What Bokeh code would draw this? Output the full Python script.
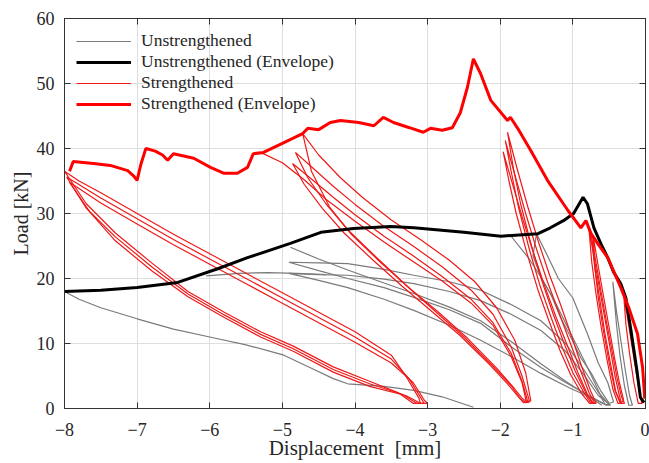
from bokeh.plotting import figure
from bokeh.models import Legend, LegendItem, LinearAxis, Range1d, FixedTicker
from bokeh.embed import file_html
from bokeh.resources import INLINE

X_TICKS = [-8, -7, -6, -5, -4, -3, -2, -1, 0]
Y_TICKS = [0, 10, 20, 30, 40, 50, 60]

# ---------------- Envelopes ----------------
ENV_S_X = [-7.93, -7.88, -7.6, -7.37, -7.13, -7.05, -7.0, -6.95, -6.88, -6.75, -6.65, -6.58, -6.5,
           -6.22, -5.99, -5.81, -5.62, -5.48, -5.4, -5.26, -5.0, -4.85, -4.72, -4.65, -4.5, -4.34,
           -4.2, -3.95, -3.74, -3.61, -3.47, -3.25, -3.06, -2.96, -2.8, -2.66, -2.55, -2.45, -2.37,
           -2.27, -2.13, -1.9, -1.86, -1.76, -1.58, -1.35, -1.07, -0.89, -0.82, -0.75, -0.66, -0.52,
           -0.34, -0.23, -0.11, -0.04, -0.01]
ENV_S_Y = [36.5, 38.0, 37.7, 37.4, 36.6, 35.8, 35.1, 37.5, 40.0, 39.6, 39.0, 38.2, 39.2,
           38.5, 37.1, 36.2, 36.2, 37.1, 39.2, 39.4, 40.8, 41.6, 42.3, 43.1, 42.9, 44.0,
           44.3, 44.0, 43.5, 44.8, 44.0, 43.2, 42.5, 43.1, 42.8, 43.2, 45.5, 49.5, 53.8,
           51.5, 47.4, 44.3, 44.8, 43.1, 39.7, 35.1, 30.5, 27.8, 28.9, 26.9, 25.4, 23.2,
           18.6, 15.5, 11.5, 6.3, 1.5]

ENV_U_X = [-8.0, -7.5, -7.0, -6.44, -5.89, -5.48, -4.89, -4.47, -4.02, -3.51, -3.19, -2.5, -1.99,
           -1.48, -1.31, -1.13, -0.99, -0.86, -0.8, -0.71, -0.6, -0.52, -0.44, -0.34, -0.27, -0.2,
           -0.12, -0.07, -0.02]
ENV_U_Y = [18.0, 18.2, 18.6, 19.4, 21.5, 23.2, 25.4, 27.1, 27.7, 28.0, 27.8, 27.1, 26.5,
           26.9, 27.8, 28.9, 30.0, 32.5, 31.5, 27.8, 25.0, 23.2, 21.0, 19.2, 17.0, 12.0,
           6.0, 1.7, 0.9]

# ---------------- Strengthened cycles ----------------
S_A1_X = [-8.0, -7.8, -7.5, -7.0, -6.5, -6.0, -5.5, -5.0, -4.5, -4.0, -3.5, -3.3, -3.12, -3.1, -3.2,
          -3.4, -3.8, -4.3, -4.85, -5.3, -5.8, -6.3, -6.8, -7.3, -7.7, -8.0]
S_A1_Y = [36.5, 35.0, 33.2, 30.0, 26.8, 23.8, 20.8, 17.8, 14.8, 11.8, 8.2, 5.0, 1.6, 0.8, 0.8,
          2.4, 4.2, 6.4, 9.6, 11.8, 14.8, 18.0, 22.4, 27.0, 31.5, 36.5]
S_A2_X = [-7.97, -7.5, -7.0, -6.5, -6.0, -5.5, -5.0, -4.5, -4.0, -3.5, -3.25, -3.08, -3.05, -3.15,
          -3.35, -3.8, -4.3, -4.85, -5.3, -5.8, -6.3, -6.8, -7.3, -7.7, -7.97]
S_A2_Y = [35.6, 32.4, 29.2, 26.0, 23.0, 20.0, 17.0, 14.0, 11.0, 7.6, 4.5, 1.4, 0.8, 0.8,
          2.2, 3.8, 6.0, 9.2, 11.4, 14.4, 17.6, 21.8, 26.4, 30.8, 35.6]
S_A3_X = [-7.93, -7.5, -7.0, -6.5, -6.0, -5.5, -5.0, -4.5, -4.0, -3.5, -3.2, -3.04, -3.0, -3.1,
          -3.3, -3.8, -4.3, -4.85, -5.3, -5.8, -6.3, -6.8, -7.3, -7.65, -7.93]
S_A3_Y = [34.8, 31.6, 28.4, 25.2, 22.2, 19.2, 16.2, 13.2, 10.2, 7.0, 4.0, 1.2, 0.8, 0.8,
          2.0, 3.4, 5.6, 8.8, 11.0, 14.0, 17.2, 21.2, 25.8, 30.2, 34.8]

S_B0_X = [-5.3, -5.0, -4.7, -4.4, -4.0, -3.6, -3.2, -2.8, -2.4, -2.1, -1.85, -1.7, -1.64]
S_B0_Y = [39.4, 37.8, 35.2, 32.2, 28.8, 25.6, 22.6, 19.6, 16.2, 12.8, 8.0, 4.0, 1.0]
S_B1_X = [-4.82, -4.6, -4.3, -4.0, -3.6, -3.2, -2.8, -2.4, -2.1, -1.85, -1.7, -1.6, -1.65, -1.72,
          -1.85, -2.1, -2.5, -2.9, -3.3, -3.7, -4.1, -4.4, -4.65, -4.82]
S_B1_Y = [39.4, 37.2, 34.2, 31.4, 28.0, 25.0, 21.8, 18.2, 14.5, 9.5, 5.0, 1.2, 0.9, 1.5,
          3.5, 6.5, 11.0, 15.0, 19.0, 23.2, 27.5, 31.5, 35.5, 39.4]
S_B2_X = [-4.86, -4.6, -4.3, -4.0, -3.6, -3.2, -2.8, -2.4, -2.1, -1.85, -1.7, -1.62, -1.68, -1.75,
          -1.9, -2.15, -2.55, -2.95, -3.35, -3.75, -4.15, -4.45, -4.7, -4.86]
S_B2_Y = [37.7, 35.3, 32.5, 29.8, 26.5, 23.5, 20.3, 16.8, 13.2, 8.5, 4.2, 1.0, 0.9, 1.8,
          3.8, 6.8, 11.2, 15.0, 18.8, 22.8, 27.0, 30.8, 34.5, 37.7]
S_B3_X = [-4.72, -4.5, -4.2, -3.9, -3.5, -3.1, -2.7, -2.35, -2.05, -1.8, -1.65, -1.58, -1.62, -1.7,
          -1.8, -2.05, -2.45, -2.85, -3.25, -3.65, -4.05, -4.35, -4.6, -4.72]
S_B3_Y = [42.3, 39.0, 35.5, 32.5, 29.0, 26.0, 22.8, 19.5, 15.5, 10.5, 5.5, 1.2, 0.9, 1.6,
          3.0, 6.2, 10.8, 14.8, 18.5, 22.5, 26.8, 31.0, 36.5, 42.3]

S_C1_X = [-1.93, -1.8, -1.65, -1.5, -1.35, -1.2, -1.05, -0.9, -0.78, -0.7, -0.75, -0.85, -1.0,
          -1.15, -1.3, -1.45, -1.6, -1.75, -1.85, -1.93]
S_C1_Y = [41.2, 36.0, 30.0, 24.5, 19.5, 15.0, 10.5, 6.0, 2.5, 0.8, 0.8, 2.5, 5.5,
          9.5, 14.0, 18.8, 24.5, 31.0, 36.5, 41.2]
S_C2_X = [-1.9, -1.77, -1.62, -1.47, -1.32, -1.17, -1.02, -0.88, -0.76, -0.68, -0.73, -0.83, -0.97,
          -1.12, -1.27, -1.42, -1.57, -1.72, -1.82, -1.9]
S_C2_Y = [42.5, 37.0, 31.0, 25.5, 20.5, 16.0, 11.2, 6.5, 2.8, 0.8, 0.8, 2.6, 5.8,
          10.0, 14.5, 19.4, 25.0, 31.5, 37.0, 42.5]
S_C3_X = [-1.96, -1.83, -1.68, -1.53, -1.38, -1.23, -1.08, -0.93, -0.8, -0.72, -0.77, -0.88, -1.03,
          -1.18, -1.33, -1.48, -1.63, -1.78, -1.88, -1.96]
S_C3_Y = [39.5, 34.5, 28.8, 23.5, 18.6, 14.0, 9.8, 5.5, 2.2, 0.8, 0.8, 2.3, 5.2,
          9.0, 13.5, 18.2, 23.8, 30.0, 35.0, 39.5]

S_D1_X = [-0.78, -0.72, -0.65, -0.57, -0.49, -0.42, -0.36, -0.33, -0.38, -0.45, -0.53, -0.61,
          -0.68, -0.74, -0.78]
S_D1_Y = [27.8, 24.0, 19.5, 14.5, 9.5, 5.0, 2.0, 0.8, 0.8, 3.0, 7.5, 12.5, 17.5, 22.5, 27.8]
S_D2_X = [-0.72, -0.66, -0.59, -0.51, -0.43, -0.36, -0.3, -0.35, -0.42, -0.5, -0.58, -0.65,
          -0.7, -0.72]
S_D2_Y = [26.5, 22.5, 18.0, 13.0, 8.0, 4.0, 1.2, 0.9, 2.8, 7.0, 12.0, 17.0, 22.0, 26.5]
S_D3_X = [-0.75, -0.69, -0.62, -0.54, -0.46, -0.39, -0.33, -0.29, -0.34, -0.41, -0.48, -0.56,
          -0.63, -0.7, -0.75]
S_D3_Y = [27.0, 23.0, 18.5, 13.5, 8.8, 4.6, 1.8, 0.8, 0.8, 2.6, 6.8, 11.6, 16.8, 21.8, 27.0]
S_E1_X = [-0.3, -0.22, -0.15, -0.09, -0.05, -0.1, -0.16, -0.22, -0.27, -0.3]
S_E1_Y = [17.5, 12.0, 7.0, 3.0, 0.8, 0.8, 4.0, 8.5, 13.0, 17.5]

# ---------------- Unstrengthened cycles ----------------
U_1_X = [-8.0, -7.8, -7.5, -7.0, -6.5, -6.0, -5.5, -4.98, -4.6, -4.3, -4.1, -3.6, -3.19, -2.8, -2.37]
U_1_Y = [18.0, 16.8, 15.5, 13.8, 12.2, 11.0, 9.8, 8.2, 6.2, 4.6, 3.8, 3.4, 2.8, 1.8, 0.2]
U_2A_X = [-4.91, -4.5, -4.1, -3.6, -3.19, -2.7, -2.27, -1.85, -1.44, -1.1, -0.85, -0.65, -0.5,
          -0.55, -0.75, -1.1, -1.44, -1.85, -2.27, -2.7, -3.19, -3.6, -4.1, -4.5, -4.91]
U_2A_Y = [22.5, 22.4, 22.3, 21.4, 20.5, 19.5, 18.2, 16.0, 13.5, 10.0, 6.0, 2.5, 0.6,
          0.6, 1.8, 4.0, 6.3, 9.5, 13.1, 15.2, 17.1, 18.6, 20.0, 21.2, 22.5]
U_2B_X = [-4.91, -4.5, -4.1, -3.6, -3.19, -2.7, -2.27, -1.85, -1.44, -1.1, -0.85, -0.65, -0.48,
          -0.53, -0.72, -1.05, -1.44, -1.85, -2.27, -2.7, -3.19, -3.6, -4.1, -4.5, -4.91]
U_2B_Y = [20.8, 20.6, 20.5, 19.9, 19.2, 18.0, 16.6, 14.5, 12.0, 8.8, 5.2, 2.0, 0.5,
          0.5, 1.5, 3.2, 5.4, 8.0, 10.5, 12.8, 15.1, 16.8, 18.6, 19.7, 20.8]
U_2C_X = [-4.89, -4.5, -4.1, -3.6, -3.19, -2.7, -2.27, -1.85, -1.44, -1.1, -0.8, -0.6]
U_2C_Y = [24.8, 23.0, 21.3, 19.3, 17.7, 15.6, 13.5, 10.3, 6.9, 4.2, 2.0, 0.5]
U_2D_X = [-6.05, -5.6, -5.2, -4.8, -4.4]
U_2D_Y = [20.4, 20.8, 20.9, 20.8, 20.6]
U_3A_X = [-1.5, -1.35, -1.2, -1.0, -0.8, -0.65, -0.52, -0.44, -0.5, -0.62, -0.75, -0.89, -1.03,
          -1.17, -1.3, -1.44, -1.55, -1.5]
U_3A_Y = [26.9, 23.5, 20.0, 17.0, 11.5, 7.0, 4.0, 1.0, 0.8, 2.8, 5.5, 7.8, 11.0,
          14.0, 17.5, 20.2, 23.5, 26.9]
U_3B_X = [-1.85, -1.6, -1.44, -1.25, -1.05, -0.85, -0.7, -0.6, -0.55]
U_3B_Y = [26.5, 23.0, 20.2, 16.5, 12.0, 7.5, 4.0, 1.5, 0.5]
U_4A_X = [-0.45, -0.4, -0.34, -0.28, -0.22, -0.18, -0.23, -0.29, -0.35, -0.4, -0.45]
U_4A_Y = [19.5, 15.0, 10.5, 6.0, 2.0, 0.5, 0.5, 3.5, 8.0, 13.0, 19.5]

S_XS = [S_A1_X, S_A2_X, S_A3_X, S_B0_X, S_B1_X, S_B2_X, S_B3_X, S_C1_X, S_C2_X, S_C3_X,
        S_D1_X, S_D2_X, S_D3_X, S_E1_X]
S_YS = [S_A1_Y, S_A2_Y, S_A3_Y, S_B0_Y, S_B1_Y, S_B2_Y, S_B3_Y, S_C1_Y, S_C2_Y, S_C3_Y,
        S_D1_Y, S_D2_Y, S_D3_Y, S_E1_Y]
U_XS = [U_1_X, U_2A_X, U_2B_X, U_2C_X, U_2D_X, U_3A_X, U_3B_X, U_4A_X]
U_YS = [U_1_Y, U_2A_Y, U_2B_Y, U_2C_Y, U_2D_Y, U_3A_Y, U_3B_Y, U_4A_Y]

LABELS = ["Unstrengthened", "Unstrengthened (Envelope)", "Strengthened", "Strengthened (Envelope)"]
X_LABEL = "Displacement \u00a0[mm]"
Y_LABEL = "Load [kN]"

FONT = "Liberation Serif"
AXIS_COLOR = "#333333"

p = figure(width=649, height=463, output_backend="svg", toolbar_location=None,
           x_range=Range1d(-8, 0), y_range=Range1d(0, 60),
           min_border_left=64, min_border_right=4, min_border_top=18, min_border_bottom=55,
           background_fill_color="white", border_fill_color="white")

p.outline_line_color = AXIS_COLOR
p.outline_line_width = 1

for ax in (p.xaxis[0], p.yaxis[0]):
    ax.major_tick_in = 6
    ax.major_tick_out = 0
    ax.minor_tick_in = 0
    ax.minor_tick_out = 0
    ax.axis_line_color = AXIS_COLOR
    ax.major_tick_line_color = AXIS_COLOR
    ax.major_label_text_font = FONT
    ax.major_label_text_font_size = "18px"
    ax.major_label_text_color = "#262626"
    ax.axis_label_text_font = FONT
    ax.axis_label_text_font_style = "normal"
    ax.axis_label_text_color = "#262626"

p.xaxis[0].ticker = FixedTicker(ticks=X_TICKS)
p.yaxis[0].ticker = FixedTicker(ticks=Y_TICKS)
p.xaxis[0].axis_label = X_LABEL
p.yaxis[0].axis_label = Y_LABEL
p.xaxis[0].axis_label_text_font_size = "21px"
p.yaxis[0].axis_label_text_font_size = "20px"
p.xaxis[0].major_label_standoff = 14
p.yaxis[0].major_label_standoff = 10
p.xaxis[0].axis_label_standoff = -3
p.yaxis[0].axis_label_standoff = 2

top = LinearAxis(ticker=FixedTicker(ticks=X_TICKS), major_label_text_font_size="1px",
                 major_label_text_color=None,
                 major_label_standoff=0, major_tick_in=6, major_tick_out=0,
                 minor_tick_in=0, minor_tick_out=0, axis_line_color=AXIS_COLOR,
                 major_tick_line_color=AXIS_COLOR)
right = LinearAxis(ticker=FixedTicker(ticks=Y_TICKS), major_label_text_font_size="1px",
                   major_label_text_color=None,
                   major_label_standoff=0, major_tick_in=6, major_tick_out=0,
                   minor_tick_in=0, minor_tick_out=0, axis_line_color=AXIS_COLOR,
                   major_tick_line_color=AXIS_COLOR)
p.add_layout(top, "above")
p.add_layout(right, "right")

p.xgrid.ticker = FixedTicker(ticks=X_TICKS)
p.ygrid.ticker = FixedTicker(ticks=Y_TICKS)
p.grid.grid_line_color = "#dedede"
p.grid.grid_line_width = 1

r_u = p.multi_line(U_XS, U_YS, line_color="#7a7a7a", line_width=1.2)
r_s = p.multi_line(S_XS, S_YS, line_color="#f01818", line_width=1.2)
r_ue = p.line(ENV_U_X, ENV_U_Y, line_color="black", line_width=3)
r_se = p.line(ENV_S_X, ENV_S_Y, line_color="#ff0000", line_width=3)

legend = Legend(items=[LegendItem(label=LABELS[0], renderers=[r_u]),
                       LegendItem(label=LABELS[1], renderers=[r_ue]),
                       LegendItem(label=LABELS[2], renderers=[r_s]),
                       LegendItem(label=LABELS[3], renderers=[r_se])],
                location="top_left", background_fill_alpha=0, border_line_color=None,
                label_text_font=FONT, label_text_font_size="17.5px", label_text_color="#262626",
                glyph_width=55, glyph_height=20, label_height=20, spacing=0,
                label_standoff=10, padding=10, margin=12)
p.add_layout(legend, "center")

open("out.html", "w").write(file_html(p, INLINE))
